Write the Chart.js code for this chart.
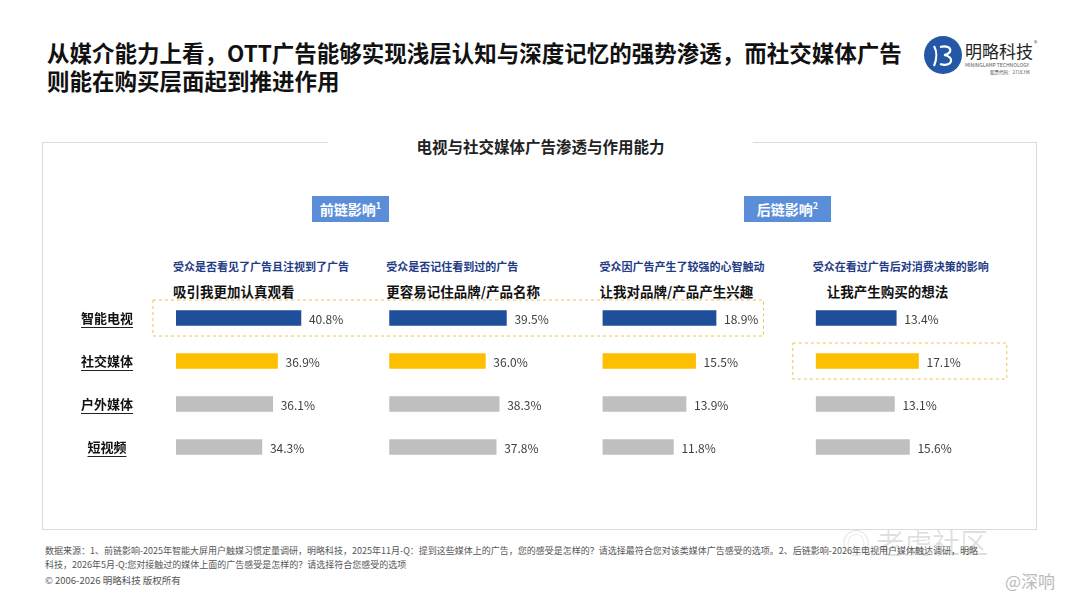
<!DOCTYPE html>
<html>
<head>
<meta charset="utf-8">
<script src="https://cdn.jsdelivr.net/npm/chart.js@4.4.1/dist/chart.umd.min.js"></script>
<style>
  body { margin: 0; width: 1080px; height: 608px; position: relative; background: #fff; font-family: 'Noto Sans CJK SC', 'Noto Sans', sans-serif; overflow: hidden; }
  .abs { position: absolute; white-space: nowrap; }
  .title { left: 47px; top: 38px; font-size: 22.5px; font-weight: 700; line-height: 28px; color: #111; }
  .frame { left: 42px; top: 142px; width: 995px; height: 388px; border: 1.5px solid #d4dce8; box-sizing: border-box; }
  .frame-title { left: 328px; top: 136px; width: 425px; text-align: center; background: #fff; font-size: 15.5px; font-weight: 700; line-height: 20px; color: #222; }
  .badge { top: 196px; height: 26px; line-height: 26px; background: #5b8ed8; color: #fff; font-size: 14px; font-weight: 700; text-align: center; }
  .badge sup { font-size: 9px; line-height: 0; }
  .sub { font-size: 11px; font-weight: 700; color: #1f3b86; line-height: 16px; top: 258px; }
  .head { font-size: 13.5px; font-weight: 700; color: #111; line-height: 20px; top: 281px; }
  .note { left: 45px; top: 544px; font-size: 9px; line-height: 14px; color: #555; }
  .copy { left: 45px; top: 573px; font-size: 9.5px; line-height: 14px; color: #555; }
  #wrap { position: absolute; left: 60px; top: 290px; width: 980px; height: 185px; }
</style>
</head>
<body>
<div class="abs title">从媒介能力上看，OTT广告能够实现浅层认知与深度记忆的强势渗透，而社交媒体广告<br>则能在购买层面起到推进作用</div>

<svg class="abs" style="left:923px;top:35px" width="40" height="40" viewBox="0 0 40 40">
  <circle cx="20" cy="20" r="19" fill="#2457a6"/>
  <path d="M11 11 C 14 16, 14 24, 11 31" stroke="#fff" stroke-width="2.2" fill="none"/>
  <path d="M17 12 C 30 9, 30 19, 21 20 C 32 21, 30 33, 17 29" stroke="#fff" stroke-width="2.2" fill="none"/>
</svg>
<div class="abs" style="left:965px;top:40px;font-size:17px;line-height:22px;color:#222">明略科技</div>
<div class="abs" style="left:1034px;top:38px;font-size:7px;color:#555">®</div>
<div class="abs" style="left:965px;top:62px;font-size:5px;line-height:6px;color:#555">MININGLAMP TECHNOLOGY</div>
<div class="abs" style="left:990px;top:69px;font-size:4.5px;line-height:6px;color:#555">股票代码：2718.HK</div>

<div class="abs frame"></div>
<div class="abs frame-title">电视与社交媒体广告渗透与作用能力</div>

<div class="abs badge" style="left:312px;width:77px">前链影响<sup>1</sup></div>
<div class="abs badge" style="left:744px;width:87px">后链影响<sup>2</sup></div>

<div id="heads"></div>

<div id="wrap"><canvas id="bars" width="980" height="185"></canvas></div>

<div class="abs note">数据来源：1、前链影响-2025年智能大屏用户触媒习惯定量调研，明略科技，2025年11月-Q：提到这些媒体上的广告，您的感受是怎样的？请选择最符合您对该类媒体广告感受的选项。2、后链影响-2026年电视用户媒体触达调研，明略<br>科技，2026年5月-Q:您对接触过的媒体上面的广告感受是怎样的？请选择符合您感受的选项</div>
<div class="abs copy">© 2006-2026 明略科技 版权所有</div>

<div class="abs" style="left:842px;top:524px;font-size:28px;line-height:36px;color:rgba(0,0,0,0.12)">◎ 老虎社区</div>
<div class="abs" style="left:1005px;top:570px;font-size:17px;line-height:22px;color:#bbb">@深响</div>

<script>
// categories (rows)
var categories = ['智能电视', '社交媒体', '户外媒体', '短视频'];

// panel texts
var panelSubtitles = ['受众是否看见了广告且注视到了广告', '受众是否记住看到过的广告', '受众因广告产生了较强的心智触动', '受众在看过广告后对消费决策的影响'];
var panelHeadings = ['吸引我更加认真观看', '更容易记住品牌/产品名称', '让我对品牌/产品产生兴趣', '让我产生购买的想法'];

// values, %
var attractValues = [40.8, 36.9, 36.1, 34.3];
var rememberValues = [39.5, 36.0, 38.3, 37.8];
var interestValues = [18.9, 15.5, 13.9, 11.8];
var purchaseValues = [13.4, 17.1, 13.1, 15.6];

// axis ranges per panel
var panelMin = [20, 20, 0, 0];
var panelMax = [55.5, 55.5, 35.5, 35.5];

var barColors = ['#1f4e9a', '#fdbf00', '#bfbfbf', '#bfbfbf'];
var fontFamily = "'Noto Sans CJK SC', 'Noto Sans', sans-serif";

var panelValues = [attractValues, rememberValues, interestValues, purchaseValues];

// value labels to the right of each bar
var valueLabels = {
    id: 'valueLabels',
    afterDatasetsDraw: function (chart) {
        var ctx = chart.ctx;
        ctx.save();
        ctx.font = '12px ' + fontFamily;
        ctx.fillStyle = '#404040';
        ctx.textBaseline = 'middle';
        ctx.textAlign = 'left';
        chart.data.datasets.forEach(function (ds, i) {
            chart.getDatasetMeta(i).data.forEach(function (bar, j) {
                ctx.fillText(ds.data[j].toFixed(1) + '%', bar.x + 8, bar.y + 1);
            });
        });
        ctx.restore();
    }
};

// underline the row labels + dashed highlight boxes
var decorations = {
    id: 'decorations',
    afterDraw: function (chart) {
        var ctx = chart.ctx;
        var y = chart.scales.y;
        var s = chart.scales;
        ctx.save();

        ctx.font = 'bold 13px ' + fontFamily;
        var widths = categories.map(function (c) { return ctx.measureText(c).width; });
        var widest = Math.max.apply(null, widths);
        var cx = y.right - y.options.ticks.padding - widest / 2;
        ctx.strokeStyle = '#222';
        ctx.lineWidth = 1;
        categories.forEach(function (c, i) {
            var py = Math.round(y.getPixelForValue(i) + 9) + 0.5;
            ctx.beginPath();
            ctx.moveTo(cx - widths[i] / 2, py);
            ctx.lineTo(cx + widths[i] / 2, py);
            ctx.stroke();
        });

        ctx.setLineDash([3, 3]);
        ctx.strokeStyle = '#f0c24e';
        var r0 = y.getPixelForValue(0);
        ctx.strokeRect(s.x0.left - 23, r0 - 18, (s.x2.left + 161) - (s.x0.left - 23), 36);
        var r1 = y.getPixelForValue(1);
        ctx.strokeRect(s.x3.left - 23, r1 - 18, 214, 36);
        ctx.restore();
    }
};

var datasets = panelValues.map(function (vals, i) {
    return {
        data: vals,
        xAxisID: 'x' + i,
        backgroundColor: barColors,
        barThickness: 15,
        grouped: false
    };
});

var scales = {
    y: {
        type: 'category',
        labels: categories,
        grid: { display: false, drawTicks: false },
        border: { display: false },
        ticks: {
            crossAlign: 'center',
            padding: 43,
            color: '#111',
            font: { family: fontFamily, size: 13, weight: 'bold' }
        },
        afterFit: function (scale) {
            scale.width = 116;
            // tick padding is only meant horizontally here
            scale.paddingTop = 0;
            scale.paddingBottom = 0;
        }
    }
};
panelValues.forEach(function (vals, i) {
    scales['x' + i] = {
        type: 'linear',
        position: 'bottom',
        stack: 'panels',
        stackWeight: 1,
        min: panelMin[i],
        max: panelMax[i],
        display: false
    };
});

var ctx = document.getElementById('bars').getContext('2d');
var barChart = new Chart(ctx, {
    type: 'bar',
    data: { labels: categories, datasets: datasets },
    options: {
        indexAxis: 'y',
        responsive: false,
        animation: false,
        layout: { padding: { top: 6.5, bottom: 6.5, left: 0, right: 11 } },
        scales: scales,
        plugins: {
            legend: { display: false },
            tooltip: { enabled: false }
        }
    },
    plugins: [valueLabels, decorations]
});

// panel headers placed over the matching axis
var heads = document.getElementById('heads');
var headShift = [0, 0, 0, 14];
panelSubtitles.forEach(function (t, i) {
    var left = 60 + barChart.scales['x' + i].left - 3;
    var sub = document.createElement('div');
    sub.className = 'abs sub';
    sub.style.left = left + 'px';
    sub.textContent = t;
    heads.appendChild(sub);
    var head = document.createElement('div');
    head.className = 'abs head';
    head.style.left = (left + headShift[i]) + 'px';
    head.textContent = panelHeadings[i];
    heads.appendChild(head);
});
</script>
</body>
</html>
